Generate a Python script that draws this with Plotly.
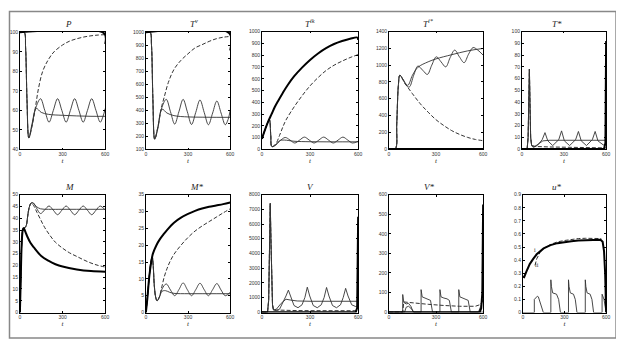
import plotly.graph_objects as go

# ---------------- data ----------------
# P
P_thick_t = [0, 592, 600]
P_thick = [100, 99.5, 94]
P_osc_t = [0, 30, 40, 50, 63, 85, 110, 145, 175, 205, 235, 265, 295, 325, 355, 385, 415, 445, 475, 505, 535, 565, 585, 600]
P_osc = [100, 100, 92, 65, 46, 52, 61, 66, 60, 54, 60, 66, 60, 54, 60, 66, 60, 54, 60, 66, 60, 54, 57, 61]
P_smooth_t = [0, 30, 40, 50, 63, 85, 115, 150, 200, 300, 400, 500, 600]
P_smooth = [100, 100, 92, 65, 46, 53, 61, 59, 58, 57.5, 57.2, 57, 57]
P_dash_t = [0, 30, 40, 50, 63, 85, 110, 130, 160, 200, 240, 300, 350, 400, 450, 500, 550, 600]
P_dash = [100, 100, 92, 65, 46, 52, 62, 71, 80, 86, 90, 93.5, 95.5, 96.7, 97.6, 98.2, 98.6, 98.8]

# T^v
Tv_thick_t = [0, 592, 600]
Tv_thick = [1000, 995, 860]
Tv_osc_t = P_osc_t
Tv_osc = [1000, 1000, 900, 480, 180, 260, 410, 485, 390, 295, 390, 485, 390, 292, 385, 480, 385, 290, 380, 472, 380, 290, 330, 400]
Tv_smooth_t = [0, 30, 40, 50, 63, 85, 115, 150, 200, 300, 400, 500, 600]
Tv_smooth = [1000, 1000, 900, 480, 180, 270, 410, 380, 360, 350, 348, 347, 347]
Tv_dash_t = [0, 30, 40, 50, 63, 85, 110, 130, 160, 200, 250, 300, 350, 400, 450, 500, 550, 600]
Tv_dash = [1000, 1000, 900, 480, 180, 270, 420, 500, 615, 715, 785, 835, 880, 905, 930, 950, 962, 968]

# T^ik
Tik_thick_t = [0, 20, 40, 60, 80, 100, 130, 160, 200, 250, 300, 350, 400, 450, 500, 550, 595, 600]
Tik_thick = [90, 170, 240, 300, 360, 410, 480, 545, 620, 695, 760, 815, 860, 895, 920, 940, 950, 930]
Tik_osc_t = [0, 20, 40, 47, 55, 62, 85, 110, 145, 175, 205, 235, 265, 295, 325, 355, 385, 415, 445, 475, 505, 535, 565, 600]
Tik_osc = [90, 170, 240, 250, 120, 25, 35, 70, 102, 80, 55, 80, 105, 80, 55, 80, 105, 80, 55, 80, 105, 80, 55, 70]
Tik_smooth_t = [0, 20, 40, 47, 55, 62, 85, 110, 140, 200, 300, 400, 500, 600]
Tik_smooth = [90, 170, 240, 250, 120, 25, 40, 75, 80, 70, 66, 65, 65, 65]
Tik_dash_t = [0, 20, 40, 47, 55, 62, 85, 110, 130, 150, 200, 250, 300, 350, 400, 450, 500, 550, 600]
Tik_dash = [90, 170, 240, 250, 120, 25, 45, 120, 190, 250, 360, 455, 540, 610, 670, 715, 750, 780, 805]

# T^i*
Tis_thick_t = [0, 600]
Tis_thick = [0, 0]
Tis_osc_t = [0, 40, 50, 60, 70, 90, 110, 130, 158, 185, 215, 245, 273, 302, 332, 362, 390, 419, 449, 479, 507, 536, 566, 600]
Tis_osc = [0, 0, 300, 750, 880, 830, 760, 740, 880, 990, 940, 890, 1000, 1100, 1040, 980, 1090, 1180, 1100, 1030, 1130, 1210, 1180, 1120]
Tis_smooth_t = [0, 40, 50, 60, 70, 90, 120, 150, 185, 250, 300, 400, 500, 600]
Tis_smooth = [0, 0, 300, 750, 880, 830, 760, 880, 975, 1040, 1075, 1125, 1170, 1200]
Tis_dash_t = [0, 40, 50, 60, 70, 100, 150, 200, 250, 300, 350, 400, 450, 500, 550, 600]
Tis_dash = [0, 0, 300, 750, 880, 790, 660, 540, 440, 350, 280, 220, 175, 140, 115, 100]

# T*
Ts_thick_t = [0, 585, 595, 600]
Ts_thick = [0, 0, 5, 92]
Ts_osc_t = [0, 38, 45, 50, 54, 58, 63, 70, 80, 110, 145, 165, 185, 220, 263, 283, 303, 340, 383, 403, 423, 460, 502, 522, 542, 580, 600]
Ts_osc = [0, 0, 10, 45, 68, 40, 10, 3, 1.5, 3, 8, 14, 7, 3, 8, 15.5, 7, 3, 8, 15, 7, 3, 8, 15, 7, 3.5, 5]
Ts_smooth_t = [0, 38, 45, 50, 54, 58, 63, 70, 90, 120, 150, 200, 300, 400, 500, 600]
Ts_smooth = [0, 0, 10, 45, 68, 40, 10, 3, 2, 4.5, 7, 7.5, 7.5, 7.5, 7.5, 7.5]
Ts_dash_t = [0, 38, 45, 50, 54, 58, 63, 70, 100, 200, 300, 400, 500, 600]
Ts_dash = [0, 0, 10, 45, 68, 40, 10, 3, 2.2, 1.8, 1.5, 1.2, 1, 1]

# M
M_thick_t = [0, 5, 10, 15, 20, 25, 30, 40, 50, 75, 100, 150, 200, 250, 300, 400, 500, 600]
M_thick = [0, 12, 25, 32, 35, 35.8, 35.5, 34, 32.5, 29.5, 27.5, 24, 22, 20.5, 19.5, 18.3, 17.6, 17.3]
M_osc_t = [0, 5, 10, 15, 20, 25, 35, 45, 55, 65, 80, 95, 115, 145, 175, 205, 235, 265, 295, 325, 355, 385, 415, 445, 475, 505, 535, 565, 600]
M_osc = [0, 12, 25, 32, 35, 35.8, 36, 37, 41, 44.5, 46.5, 46.5, 44.5, 42, 43.6, 45.2, 43.4, 41.5, 43.4, 45.2, 43.4, 41.5, 43.4, 45.2, 43.4, 41.5, 43.4, 45.2, 43.5]
M_smooth_t = [0, 5, 10, 15, 20, 25, 35, 45, 55, 65, 80, 95, 115, 145, 200, 300, 400, 500, 600]
M_smooth = [0, 12, 25, 32, 35, 35.8, 36, 37, 41, 44.5, 46.5, 46.3, 45, 44, 43.8, 43.8, 43.8, 43.8, 43.8]
M_dash_t = [0, 5, 10, 15, 20, 25, 35, 45, 55, 65, 80, 95, 120, 145, 175, 214, 250, 300, 350, 400, 450, 500, 550, 600]
M_dash = [0, 12, 25, 32, 35, 35.8, 36, 37, 41, 44.5, 46.5, 45.5, 42.5, 39.5, 36, 32.5, 29.8, 27.3, 25.3, 23.8, 22.3, 21, 20, 19.3]

# M*
Ms_thick_t = [0, 10, 25, 40, 50, 75, 100, 125, 150, 200, 250, 300, 350, 400, 450, 500, 550, 600]
Ms_thick = [0, 4, 11, 15.5, 17.5, 20, 21.8, 23.2, 24.5, 26.7, 28.2, 29.3, 30.2, 30.9, 31.4, 31.8, 32.2, 32.7]
Ms_osc_t = [0, 10, 25, 35, 45, 52, 60, 70, 80, 95, 115, 145, 175, 205, 235, 265, 295, 325, 355, 385, 415, 445, 475, 505, 535, 565, 600]
Ms_osc = [0, 4, 11, 15, 16.5, 14, 8, 4.5, 3.5, 4.5, 7, 8.5, 6.7, 5, 6.8, 8.8, 6.8, 5, 6.8, 8.7, 6.8, 5, 6.8, 8.6, 6.7, 5, 6]
Ms_smooth_t = [0, 10, 25, 35, 45, 52, 60, 70, 80, 95, 115, 140, 170, 200, 300, 400, 500, 600]
Ms_smooth = [0, 4, 11, 15, 16.5, 14, 8, 4.5, 3.5, 4.5, 6.3, 6.5, 6, 5.7, 5.6, 5.6, 5.6, 5.6]
Ms_dash_t = [0, 10, 25, 35, 45, 52, 60, 70, 80, 95, 110, 130, 150, 170, 200, 250, 300, 350, 400, 450, 500, 550, 600]
Ms_dash = [0, 4, 11, 15, 16.5, 14, 8, 4.5, 3.5, 4.5, 7, 10.5, 13, 15, 17.3, 20, 22.3, 24.2, 25.7, 27, 28.3, 29.6, 30.8]

# V
V_thick_t = [0, 585, 594, 600]
V_thick = [0, 0, 300, 6500]
V_osc_t = [0, 35, 42, 47, 52, 56, 60, 66, 72, 90, 110, 135, 150, 165, 180, 200, 225, 250, 268, 283, 298, 320, 345, 370, 388, 403, 418, 440, 465, 490, 507, 522, 537, 560, 585, 600]
V_osc = [0, 0, 800, 4000, 7400, 5000, 2000, 500, 150, 100, 200, 700, 1100, 1500, 1000, 450, 300, 500, 1000, 1700, 1100, 450, 300, 500, 1000, 1680, 1100, 450, 300, 500, 1000, 1620, 1100, 500, 380, 450]
V_smooth_t = [0, 35, 42, 47, 52, 56, 60, 66, 72, 90, 120, 150, 180, 220, 300, 400, 500, 600]
V_smooth = [0, 0, 800, 4000, 7400, 5000, 2000, 500, 150, 200, 600, 880, 820, 760, 740, 740, 740, 740]
V_dash_t = [0, 35, 42, 47, 52, 56, 60, 66, 72, 100, 200, 300, 400, 500, 600]
V_dash = [0, 0, 800, 4000, 7400, 5000, 2000, 500, 150, 130, 110, 100, 95, 90, 95]

# V*
Vs_thick_t = [0, 578, 588, 595, 600]
Vs_thick = [0, 0, 20, 100, 550]
Vs_osc_t = [0, 88, 88, 95, 110, 125, 140, 155, 205, 205, 212, 230, 250, 265, 278, 325, 325, 332, 350, 370, 385, 398, 445, 445, 452, 470, 490, 505, 518, 570, 585, 600]
Vs_osc = [0, 0, 90, 50, 42, 45, 30, 0, 0, 115, 78, 72, 68, 60, 0, 0, 115, 78, 72, 68, 60, 0, 0, 115, 78, 72, 68, 60, 0, 0, 30, 70]
Vs_smooth_t = [0, 100, 110, 125, 140, 160, 600]
Vs_smooth = [0, 0, 25, 30, 20, 0, 0]
Vs_dash_t = [0, 88, 95, 150, 250, 350, 450, 550, 580, 600]
Vs_dash = [0, 0, 52, 47, 40, 34, 30, 30, 38, 60]

# u*
u_thick_t = [0, 10, 25, 50, 75, 100, 150, 200, 250, 300, 350, 400, 450, 500, 560, 575, 585, 593, 600]
u_thick = [0.275, 0.27, 0.31, 0.37, 0.41, 0.445, 0.49, 0.515, 0.53, 0.54, 0.545, 0.55, 0.553, 0.555, 0.556, 0.54, 0.47, 0.3, 0]
u_dash_t = [88, 100, 125, 150, 200, 250, 300, 350, 400, 450, 500, 550, 565]
u_dash = [0.36, 0.41, 0.46, 0.49, 0.52, 0.54, 0.55, 0.56, 0.565, 0.567, 0.568, 0.568, 0.565]
u_osc_t = [0, 83, 83, 95, 105, 112, 130, 148, 202, 202, 206, 215, 243, 258, 271, 329, 329, 333, 342, 365, 378, 390, 450, 450, 454, 463, 485, 498, 510, 571, 571, 585, 600]
u_osc = [0, 0, 0.1, 0.115, 0.125, 0.12, 0.05, 0, 0, 0.25, 0.2, 0.15, 0.14, 0.1, 0, 0, 0.25, 0.2, 0.15, 0.14, 0.1, 0, 0, 0.25, 0.2, 0.15, 0.14, 0.1, 0, 0, 0.14, 0.1, 0]

titles = ["P", "T<sup>v</sup>", "T<sup>ik</sup>", "T<sup>i*</sup>", "T*",
          "M", "M*", "V", "V*", "u*"]
# ranges padded a hair so thick curves lying on a border stay visible
y_ranges = [[40, 100.35], [100, 1005], [0, 1000], [-5, 1400], [-0.35, 100],
            [0, 50], [0, 35], [-28, 8000], [-2.1, 600], [0, 0.9]]
y_dticks = [10, 100, 100, 200, 10, 5, 5, 1000, 100, 0.1]

panels = [
    (P_thick_t, P_thick, P_osc_t, P_osc, P_smooth_t, P_smooth, P_dash_t, P_dash),
    (Tv_thick_t, Tv_thick, Tv_osc_t, Tv_osc, Tv_smooth_t, Tv_smooth, Tv_dash_t, Tv_dash),
    (Tik_thick_t, Tik_thick, Tik_osc_t, Tik_osc, Tik_smooth_t, Tik_smooth, Tik_dash_t, Tik_dash),
    (Tis_thick_t, Tis_thick, Tis_osc_t, Tis_osc, Tis_smooth_t, Tis_smooth, Tis_dash_t, Tis_dash),
    (Ts_thick_t, Ts_thick, Ts_osc_t, Ts_osc, Ts_smooth_t, Ts_smooth, Ts_dash_t, Ts_dash),
    (M_thick_t, M_thick, M_osc_t, M_osc, M_smooth_t, M_smooth, M_dash_t, M_dash),
    (Ms_thick_t, Ms_thick, Ms_osc_t, Ms_osc, Ms_smooth_t, Ms_smooth, Ms_dash_t, Ms_dash),
    (V_thick_t, V_thick, V_osc_t, V_osc, V_smooth_t, V_smooth, V_dash_t, V_dash),
    (Vs_thick_t, Vs_thick, Vs_osc_t, Vs_osc, Vs_smooth_t, Vs_smooth, Vs_dash_t, Vs_dash),
    (u_thick_t, u_thick, u_osc_t, u_osc, None, None, u_dash_t, u_dash),
]
spiky = {4, 7, 8, 9}  # panels with jumps -> straight segments

# ---------------- layout geometry (screen pixels) ----------------
# the page body has an 8px margin, so the figure is shifted by OFF
OFF = 8
W, H = 616, 338
col_px = [(19, 105), (146, 231), (263, 360), (391, 486), (525, 610)]
row_px = [(29, 149), (195, 315)]


def fx(px):
    return (px - OFF) / W


def fy(py):
    return 1 - (py - OFF) / H


fig = go.Figure()
layout = {}
annotations = []

for i, (tk_t, tk, os_t, os_v, sm_t, sm, da_t, da) in enumerate(panels):
    r, c = divmod(i, 5)
    n = i + 1
    xa = "x" if n == 1 else f"x{n}"
    ya = "y" if n == 1 else f"y{n}"
    shape = "linear" if i in spiky else "spline"

    if sm_t is not None:
        fig.add_trace(go.Scatter(x=sm_t, y=sm, mode="lines", xaxis=xa, yaxis=ya,
                                 line=dict(color="#333", width=0.9, shape=shape)))
    fig.add_trace(go.Scatter(x=os_t, y=os_v, mode="lines", xaxis=xa, yaxis=ya,
                             line=dict(color="#333", width=0.9, shape=shape)))
    fig.add_trace(go.Scatter(x=da_t, y=da, mode="lines", xaxis=xa, yaxis=ya,
                             line=dict(color="#333", width=1, dash="4px,2px", shape=shape)))
    fig.add_trace(go.Scatter(x=tk_t, y=tk, mode="lines", xaxis=xa, yaxis=ya,
                             line=dict(color="black", width=2, shape=shape)))

    x0, x1 = col_px[c]
    if i == 9:
        x0 = 526
    y0, y1 = row_px[r]
    axis_common = dict(showline=True, linecolor="black", linewidth=0.7, mirror="ticks",
                       ticks="inside", ticklen=2, tickwidth=0.6, tickcolor="black",
                       showgrid=False, zeroline=False,
                       tickfont=dict(family="Liberation Sans", size=5, color="#333"))
    layout["xaxis" if n == 1 else f"xaxis{n}"] = dict(
        axis_common, domain=[fx(x0), fx(x1)], range=[0, 600],
        tickvals=[0, 300, 600], anchor=ya,
        title=dict(text="<i>t</i>", standoff=1,
                   font=dict(family="Liberation Serif", size=7, color="#222")))
    layout["yaxis" if n == 1 else f"yaxis{n}"] = dict(
        axis_common, domain=[fy(y1), fy(y0)], range=y_ranges[i],
        dtick=y_dticks[i], tick0=0, anchor=xa)
    annotations.append(dict(text=f"<i>{titles[i]}</i>", xref="paper", yref="paper",
                            x=(fx(x0) + fx(x1)) / 2, y=fy(y0 - 1), yanchor="bottom",
                            showarrow=False,
                            font=dict(family="Liberation Serif", size=9, color="#222")))

# little curve labels in the u* panel
annotations.append(dict(text="i", xref="x10", yref="y10", x=90, y=0.48, showarrow=False,
                        font=dict(family="Liberation Serif", size=6, color="#333")))
annotations.append(dict(text="ii", xref="x10", yref="y10", x=100, y=0.36, showarrow=False,
                        font=dict(family="Liberation Serif", size=6, color="#333")))

fig.update_layout(
    **layout,
    annotations=annotations,
    shapes=[dict(type="rect", xref="paper", yref="paper",
                 x0=0.5 / W, x1=fx(620), y0=fy(341), y1=1 - 0.5 / H,
                 line=dict(color="#888", width=1.5))],
    width=W, height=H,
    margin=dict(l=0, r=0, t=0, b=0),
    paper_bgcolor="white", plot_bgcolor="white",
    showlegend=False,
)

fig.write_html("out.html")
